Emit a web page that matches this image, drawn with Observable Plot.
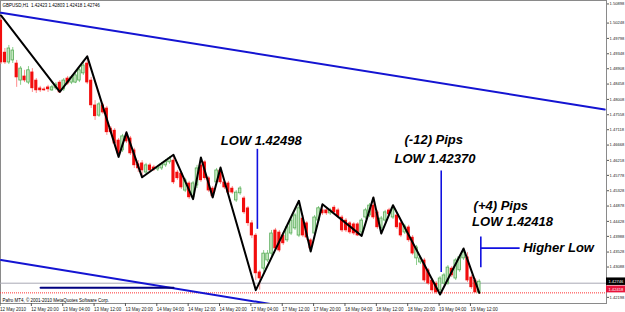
<!DOCTYPE html>
<html><head><meta charset="utf-8">
<script src="https://cdn.jsdelivr.net/npm/d3@7"></script>
<script src="https://cdn.jsdelivr.net/npm/@observablehq/plot@0.6"></script>
<style>
html,body{margin:0;padding:0;background:#fff;}
#chart svg{display:block;}
</style></head><body><div id="chart"></div>
<script>
// ---- DATA (GBPUSD H1) ----
const opens = [1.5041,1.4947,1.4918,1.4924,1.4915,1.4865,1.4877,1.4859,1.4889,1.4865,
1.4842,1.4839,1.4845,1.4836,1.4842,1.4859,1.4839,1.4871,1.4859,1.4859,
1.4865,1.4886,1.4915,1.4865,1.4792,1.4762,1.4792,1.4783,1.4724,1.4718,
1.4689,1.4660,1.4701,1.4695,1.4660,1.4619,1.4622,1.4595,1.4616,1.4610,
1.4604,1.4607,1.4616,1.4625,1.4630,1.4595,1.4592,1.4542,1.4563,1.4522,
1.4557,1.4616,1.4625,1.4578,1.4548,1.4566,1.4601,1.4566,1.4563,1.4548,
1.4513,1.4534,1.4519,1.4490,1.4446,1.4410,1.4302,1.4313,1.4337,1.4357,
1.4425,1.4419,1.4410,1.4396,1.4416,1.4431,1.4410,1.4460,1.4446,1.4396,
1.4416,1.4454,1.4484,1.4484,1.4475,1.4492,1.4484,1.4463,1.4454,1.4446,
1.4443,1.4443,1.4419,1.4463,1.4469,1.4498,1.4478,1.4431,1.4454,1.4484,
1.4463,1.4469,1.4446,1.4419,1.4434,1.4404,1.4343,1.4331,1.4337,1.4308,
1.4278,1.4269,1.4249,1.4269,1.4269,1.4313,1.4284,1.4308,1.4343,1.4346,
1.4287,1.4278,1.42423];
const highs = [1.5056,1.4959,1.4968,1.4962,1.4924,1.4906,1.4895,1.4906,1.4900,1.4871,
1.4848,1.4845,1.4851,1.4851,1.4859,1.4865,1.4871,1.4877,1.4880,1.4886,
1.4900,1.4924,1.4936,1.4874,1.4806,1.4801,1.4798,1.4789,1.4730,1.4724,
1.4695,1.4707,1.4713,1.4701,1.4666,1.4630,1.4630,1.4622,1.4622,1.4616,
1.4616,1.4625,1.4633,1.4642,1.4647,1.4601,1.4598,1.4578,1.4569,1.4569,
1.4616,1.4639,1.4630,1.4583,1.4554,1.4607,1.4610,1.4572,1.4569,1.4554,
1.4542,1.4554,1.4525,1.4495,1.4454,1.4416,1.4308,1.4366,1.4366,1.4425,
1.4431,1.4425,1.4419,1.4440,1.4460,1.4475,1.4512,1.4469,1.4451,1.4401,
1.4469,1.4495,1.4502,1.4490,1.4490,1.4498,1.4490,1.4469,1.4460,1.4451,
1.4448,1.4448,1.4460,1.4490,1.4504,1.4522,1.4484,1.4466,1.4484,1.4490,
1.4499,1.4475,1.4451,1.4443,1.4440,1.4410,1.4381,1.4349,1.4343,1.4313,
1.4284,1.4275,1.4290,1.4299,1.4322,1.4319,1.4343,1.4352,1.4372,1.4360,
1.4293,1.4284,1.42803];
const lows = [1.4912,1.4912,1.4912,1.4915,1.4845,1.4851,1.4859,1.4853,1.4830,1.4827,
1.4830,1.4833,1.4830,1.4833,1.4836,1.4827,1.4833,1.4851,1.4853,1.4856,
1.4859,1.4880,1.4853,1.4783,1.4748,1.4757,1.4765,1.4704,1.4707,1.4671,
1.4641,1.4654,1.4680,1.4645,1.4607,1.4595,1.4581,1.4589,1.4595,1.4598,
1.4598,1.4601,1.4610,1.4619,1.4560,1.4572,1.4545,1.4536,1.4516,1.4517,
1.4548,1.4566,1.4572,1.4536,1.4522,1.4557,1.4560,1.4545,1.4531,1.4531,
1.4507,1.4528,1.4472,1.4437,1.4401,1.4278,1.4250,1.4302,1.4331,1.4349,
1.4366,1.4360,1.4381,1.4390,1.4410,1.4425,1.4404,1.4404,1.4396,1.4363,
1.4407,1.4448,1.4469,1.4469,1.4469,1.4472,1.4460,1.4419,1.4419,1.4413,
1.4410,1.4407,1.4409,1.4457,1.4463,1.4457,1.4428,1.4416,1.4448,1.4466,
1.4457,1.4428,1.4404,1.4413,1.4390,1.4352,1.4322,1.4325,1.4272,1.4264,
1.4243,1.4237,1.4237,1.4264,1.4264,1.4287,1.4278,1.4302,1.4337,1.4272,
1.4252,1.4242,1.42418];
const closes = [1.4918,1.4918,1.4959,1.4953,1.4874,1.4900,1.4865,1.4895,1.4842,1.4836,
1.4836,1.4836,1.4839,1.4845,1.4853,1.4830,1.4865,1.4856,1.4874,1.4880,
1.4895,1.4909,1.4859,1.4792,1.4760,1.4795,1.4771,1.4713,1.4713,1.4680,
1.4651,1.4701,1.4686,1.4651,1.4616,1.4607,1.4601,1.4616,1.4601,1.4604,
1.4610,1.4619,1.4627,1.4636,1.4566,1.4578,1.4551,1.4572,1.4522,1.4563,
1.4607,1.4572,1.4578,1.4542,1.4525,1.4601,1.4566,1.4551,1.4536,1.4536,
1.4536,1.4548,1.4478,1.4446,1.4410,1.4299,1.4284,1.4357,1.4357,1.4416,
1.4372,1.4366,1.4387,1.4434,1.4454,1.4469,1.4490,1.4410,1.4404,1.4372,
1.4463,1.4490,1.4475,1.4475,1.4484,1.4478,1.4466,1.4425,1.4425,1.4419,
1.4416,1.4410,1.4454,1.4484,1.4498,1.4463,1.4434,1.4460,1.4478,1.4472,
1.4490,1.4434,1.4410,1.4437,1.4396,1.4357,1.4375,1.4343,1.4278,1.4269,
1.4249,1.4243,1.4284,1.4293,1.4316,1.4293,1.4337,1.4346,1.4360,1.4278,
1.4258,1.4243,1.42746];

// zigzag swing points (bar index, price)
const zigzagBars   = [0,15,22,30,32,36,44,49,51,54,56,65,76,79,82,92,95,97,100,112,118,122];
const zigzagPrices = [1.5056,1.4832,1.4936,1.4641,1.4713,1.4581,1.4647,1.4517,1.4639,1.4522,1.4610,
                      1.42498,1.4512,1.4363,1.4502,1.4409,1.4522,1.4416,1.4499,1.42370,1.4372,1.42418];

// channel / support trendlines (bar index, price)
const upperChannelBars = [0, 154];
const upperChannelPrices = [1.5064, 1.4780];
const lowerChannelBars = [0, 72];
const lowerChannelPrices = [1.4338, 1.4203];
const supportBars = [10.1, 44];
const supportPrices = [1.42567, 1.42567];

// annotation markers
const markerLines = [
  {b1: 65.4, b2: 65.4, p1: 1.46646, p2: 1.44298},
  {b1: 112.3, b2: 112.3, p1: 1.4601, p2: 1.4303},
  {b1: 122.4, b2: 122.4, p1: 1.4407, p2: 1.4317},
  {b1: 122.4, b2: 132.3, p1: 1.4373, p2: 1.4373}
];
const noteTexts  = ["LOW 1.42498","(-12) Pips","LOW 1.42370","(+4) Pips","LOW 1.42418"];
const noteBars   = [66.4, 110.4, 110.7, 127.5, 130.5];
const notePrices = [1.46875, 1.46905, 1.46365, 1.44968, 1.44507];
const sideNote = {text: "Higher Low", bar: 133.2, price: 1.43752};

// axes
const timeTickBars = [0,8,16,24,32,40,48,56,64,72,80,88,96,104,112,120];
const timeLabels = ["12 May 2010","12 May 20:00","13 May 04:00","13 May 12:00","13 May 20:00",
  "14 May 04:00","14 May 12:00","14 May 20:00","17 May 04:00","17 May 12:00","17 May 20:00",
  "18 May 04:00","18 May 12:00","18 May 20:00","19 May 04:00","19 May 12:00"];
const priceLabels = ["1.50248","1.49798","1.49348","1.48908","1.48458","1.48008","1.47558",
  "1.47118","1.46668","1.46218","1.45778","1.45328","1.44878","1.44428","1.43988","1.43528",
  "1.43088","1.42648","1.42198"];
const topPriceLabel = "1.50898";
const bidPrice = 1.42746;
const lowLinePrice = 1.42418;
const titleText = "GBPUSD,H1  1.42423 1.42803 1.42418 1.42746";
const footerText = "Pafro MT4, \u00A9 2001-2010 MetaQuotes Software Corp.";

// ---- BUILD ----
const bars = opens.map((o, i) => ({i, o, h: highs[i], l: lows[i], c: closes[i], up: closes[i] >= o}));
const ups = bars.filter(d => d.up), downs = bars.filter(d => !d.up);
const zig = zigzagBars.map((b, k) => ({b, p: zigzagPrices[k]}));
const upperCh = upperChannelBars.map((b, k) => ({b, p: upperChannelPrices[k]}));
const lowerCh = lowerChannelBars.map((b, k) => ({b, p: lowerChannelPrices[k]}));
const support = supportBars.map((b, k) => ({b, p: supportPrices[k]}));
const notes = noteTexts.map((t, k) => ({t, b: noteBars[k], p: notePrices[k]}));
const priceTicks = priceLabels.map(Number);
const xMax = 154.46;

const noteFont = {fontFamily: "Liberation Sans, Arial, sans-serif", fontWeight: "bold", fontStyle: "italic", fontSize: 13, fill: "#000"};
const small = 4.5;
const axisSmall = 4.1;

const chart = Plot.plot({
  width: 625, height: 312,
  marginTop: 0, marginRight: 19, marginBottom: 9, marginLeft: 0,
  style: {background: "#fff", fontFamily: "Liberation Sans, Arial, sans-serif"},
  x: {type: "linear", domain: [-0.1276, xMax]},
  y: {type: "linear", domain: [1.42106, 1.50999]},
  marks: [
    Plot.frame({stroke: "#8a8a8a"}),
    // bid line and low line
    Plot.ruleY([bidPrice], {stroke: "#a9a9b4", strokeWidth: 1, dy: 1.5}),
    Plot.ruleY([lowLinePrice], {stroke: "#ff3030", strokeWidth: 1, strokeDasharray: "1,1"}),
    // channel lines
    Plot.line(upperCh, {x: "b", y: "p", stroke: "#1414d2", strokeWidth: 2, clip: true}),
    Plot.line(lowerCh, {x: "b", y: "p", stroke: "#1414d2", strokeWidth: 2, clip: true}),
    Plot.line(support, {x: "b", y: "p", stroke: "#000080", strokeWidth: 2}),
    // candles: wicks
    Plot.ruleX(downs, {x: "i", y1: "l", y2: "h", stroke: "#ff8c8c", strokeWidth: 1}),
    Plot.ruleX(ups, {x: "i", y1: "l", y2: "h", stroke: "#8ccf8c", strokeWidth: 1}),
    // candles: bodies
    Plot.rect(downs, {x1: d => d.i - 0.4, x2: d => d.i + 0.4, y1: "o", y2: "c", fill: "#f20d0d", insetTop: -0.3, insetBottom: -0.3}),
    Plot.rect(ups, {x1: d => d.i - 0.33, x2: d => d.i + 0.33, y1: "o", y2: "c", fill: "#c4e8c0", stroke: "#55aa55", strokeWidth: 0.8}),
    // zigzag
    Plot.line(zig, {x: "b", y: "p", stroke: "#000", strokeWidth: 2}),
    // annotation markers
    Plot.link(markerLines, {x1: "b1", x2: "b2", y1: "p1", y2: "p2", stroke: "#1010e0", strokeWidth: 1.6}),
    Plot.text(notes, {x: "b", y: "p", text: "t", textAnchor: "middle", lineAnchor: "middle", ...noteFont}),
    Plot.text([sideNote], {x: "bar", y: "price", text: "text", textAnchor: "start", lineAnchor: "middle", ...noteFont}),
    // axes
    Plot.axisY(priceTicks, {anchor: "right", tickSize: 2, tickPadding: 1, tickFormat: d => d.toFixed(5), fontSize: axisSmall, dy: -3, stroke: "#555", fill: "#222"}),
    Plot.axisY([Number(topPriceLabel)], {anchor: "right", tickSize: 2, tickPadding: 1, tickFormat: d => d.toFixed(5), fontSize: axisSmall, dy: 0, stroke: "#555", fill: "#222"}),
    Plot.axisX(timeTickBars, {anchor: "bottom", tickSize: 3, tickPadding: 1, tickFormat: d => timeLabels[timeTickBars.indexOf(d)], textAnchor: "start", fontSize: small, dx: -1, stroke: "#555", fill: "#222"}),
    // current price boxes on the price scale
    Plot.rect([bidPrice], {x1: xMax, x2: xMax + 4.85, y1: d => d - 0.0011, y2: d => d + 0.0011, fill: "#000"}),
    Plot.text([bidPrice], {x: xMax + 0.5, y: d => d, text: d => d.toFixed(5), textAnchor: "start", fontSize: axisSmall, fill: "#fff"}),
    Plot.rect([lowLinePrice], {x1: xMax, x2: xMax + 4.85, y1: d => d, y2: d => d + 0.0020, fill: "#e8143c"}),
    Plot.text([lowLinePrice], {x: xMax + 0.5, y: d => d + 0.0010, text: d => d.toFixed(5), textAnchor: "start", fontSize: axisSmall, fill: "#fff"}),
    // title and footer
    Plot.text([titleText], {frameAnchor: "top-left", dx: 2, dy: 3, textAnchor: "start", lineAnchor: "top", fontSize: small, fill: "#000"}),
    Plot.text([footerText], {frameAnchor: "bottom-left", dx: 2, dy: -2, textAnchor: "start", lineAnchor: "bottom", fontSize: small, fill: "#000"})
  ]
});
document.getElementById("chart").appendChild(chart);
</script>
</body></html>
